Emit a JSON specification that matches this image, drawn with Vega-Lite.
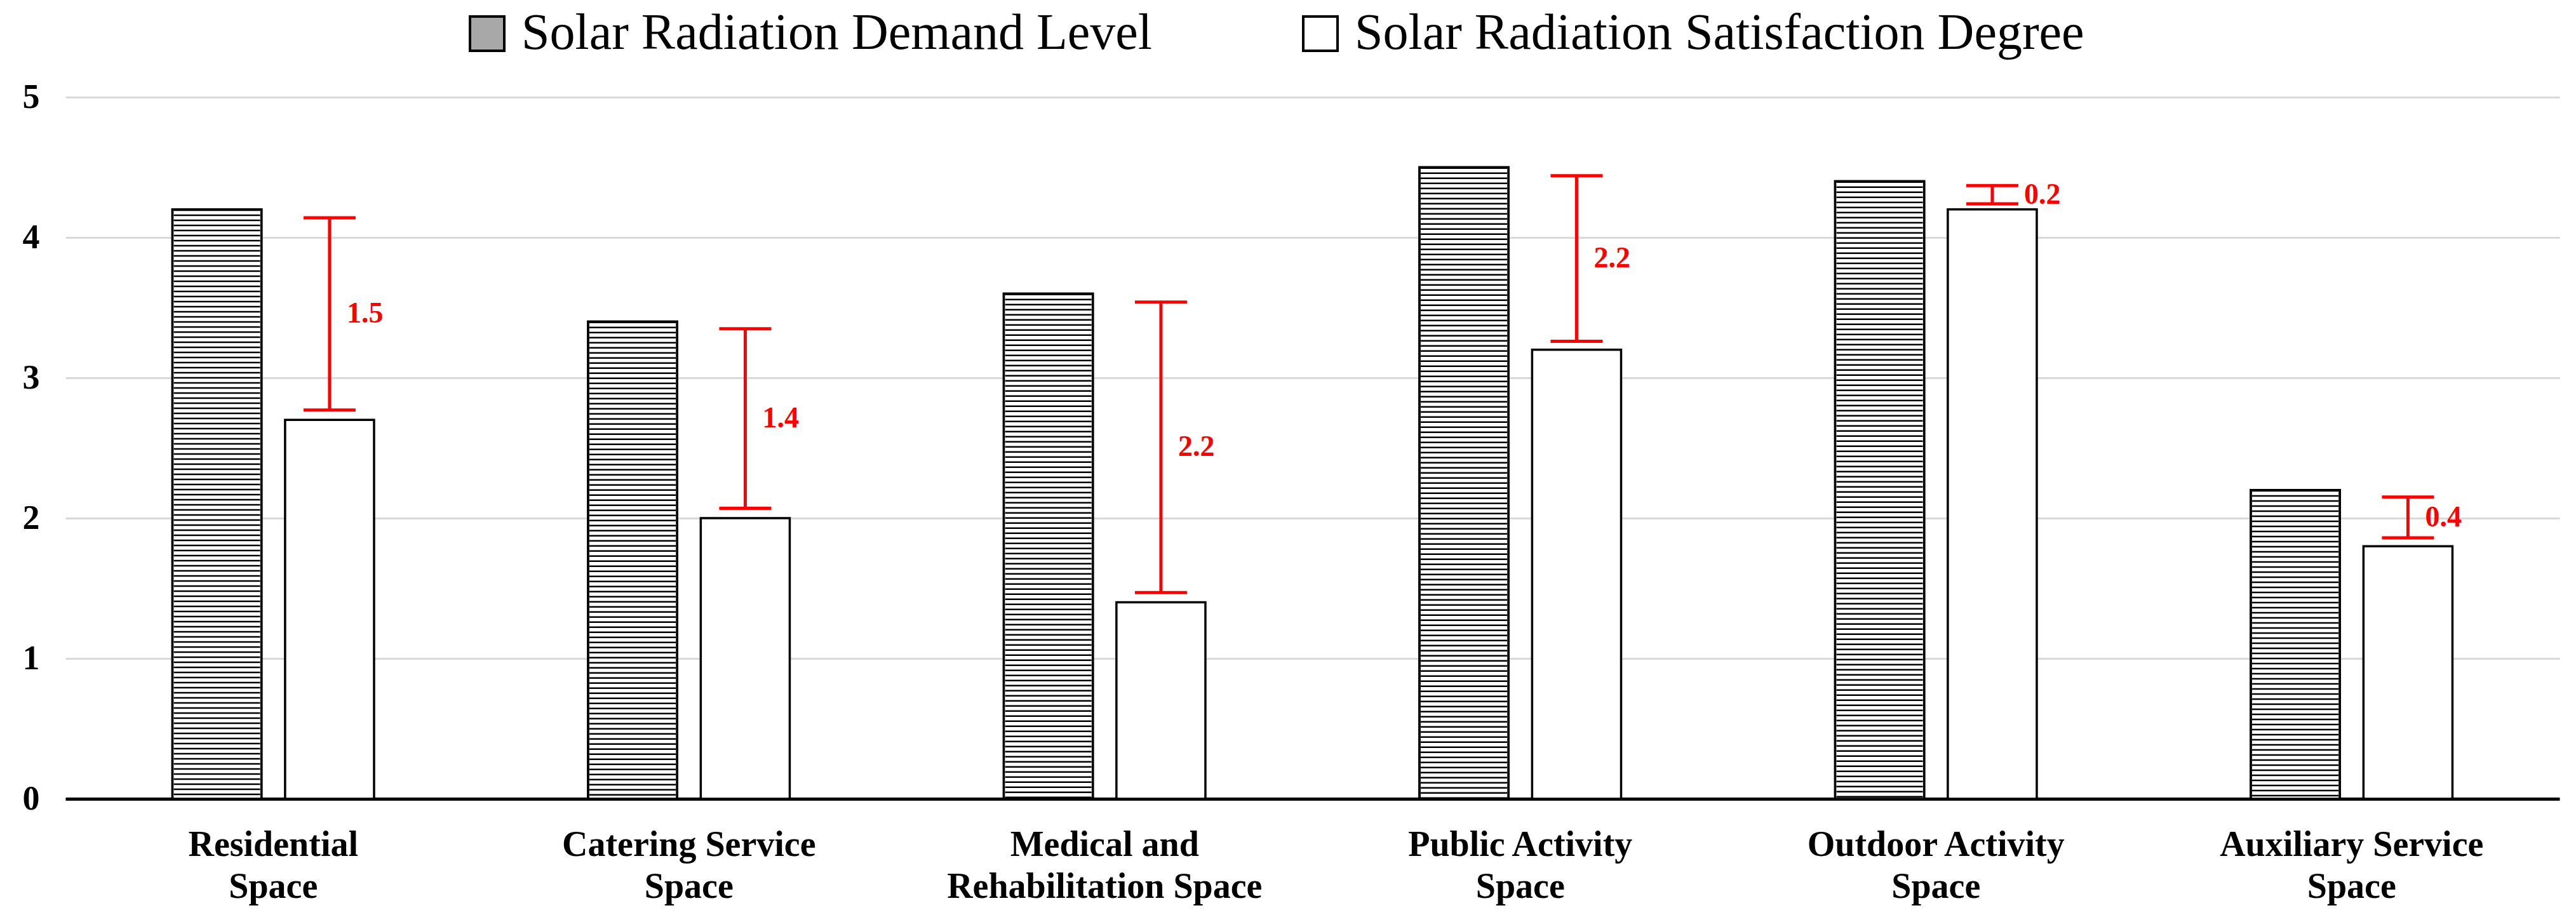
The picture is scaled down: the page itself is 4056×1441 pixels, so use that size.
{
  "$schema": "https://vega.github.io/schema/vega-lite/v6.json",
  "width": 3927,
  "height": 1105,
  "autosize": {"type": "none"},
  "padding": {"left": 103, "top": 153, "right": 26, "bottom": 183},
  "background": "white",
  "config": {
    "view": {"stroke": null},
    "font": "Liberation Serif"
  },
  "datasets": {
    "bars": [
      {"space": "Residential Space", "series": "Solar Radiation Demand Level", "value": 4.2},
      {"space": "Residential Space", "series": "Solar Radiation Satisfaction Degree", "value": 2.7},
      {"space": "Catering Service Space", "series": "Solar Radiation Demand Level", "value": 3.4},
      {"space": "Catering Service Space", "series": "Solar Radiation Satisfaction Degree", "value": 2.0},
      {"space": "Medical and Rehabilitation Space", "series": "Solar Radiation Demand Level", "value": 3.6},
      {"space": "Medical and Rehabilitation Space", "series": "Solar Radiation Satisfaction Degree", "value": 1.4},
      {"space": "Public Activity Space", "series": "Solar Radiation Demand Level", "value": 4.5},
      {"space": "Public Activity Space", "series": "Solar Radiation Satisfaction Degree", "value": 3.2},
      {"space": "Outdoor Activity Space", "series": "Solar Radiation Demand Level", "value": 4.4},
      {"space": "Outdoor Activity Space", "series": "Solar Radiation Satisfaction Degree", "value": 4.2},
      {"space": "Auxiliary Service Space", "series": "Solar Radiation Demand Level", "value": 2.2},
      {"space": "Auxiliary Service Space", "series": "Solar Radiation Satisfaction Degree", "value": 1.8}
    ],
    "gaps": [
      {"space": "Residential Space", "lo": 2.77, "hi": 4.14, "diff": "1.5"},
      {"space": "Catering Service Space", "lo": 2.07, "hi": 3.35, "diff": "1.4"},
      {"space": "Medical and Rehabilitation Space", "lo": 1.47, "hi": 3.54, "diff": "2.2"},
      {"space": "Public Activity Space", "lo": 3.26, "hi": 4.44, "diff": "2.2"},
      {"space": "Outdoor Activity Space", "lo": 4.24, "hi": 4.37, "diff": "0.2"},
      {"space": "Auxiliary Service Space", "lo": 1.86, "hi": 2.15, "diff": "0.4"}
    ]
  },
  "encoding": {
    "x": {
      "field": "space",
      "type": "nominal",
      "scale": {
        "domain": ["Residential Space", "Catering Service Space", "Medical and Rehabilitation Space", "Public Activity Space", "Outdoor Activity Space", "Auxiliary Service Space"],
        "paddingInner": 0.515,
        "paddingOuter": 0.2575
      },
      "axis": {
        "title": null,
        "labelAngle": 0,
        "ticks": false,
        "domainColor": "black",
        "domainWidth": 5,
        "labelFont": "Liberation Serif",
        "labelFontWeight": "bold",
        "labelFontSize": 56,
        "labelColor": "black",
        "labelLineHeight": 66,
        "labelPadding": 45,
        "labelBaseline": "top",
        "labelLimit": 2000,
        "labelExpr": "datum.value == 'Medical and Rehabilitation Space' ? ['Medical and', 'Rehabilitation Space'] : [slice(datum.value, 0, lastindexof(datum.value, ' ')), 'Space']"
      }
    }
  },
  "layer": [
    {
      "data": {"name": "bars"},
      "mark": {"type": "bar", "stroke": "black", "strokeWidth": 3.5},
      "encoding": {
        "xOffset": {
          "field": "series",
          "type": "nominal",
          "scale": {"domain": ["Solar Radiation Demand Level", "Solar Radiation Satisfaction Degree"], "paddingInner": 0.21, "paddingOuter": 0}
        },
        "y": {
          "field": "value",
          "type": "quantitative",
          "scale": {"domain": [0, 5], "nice": false},
          "axis": {
            "title": null,
            "values": [0, 1, 2, 3, 4, 5],
            "format": "d",
            "ticks": false,
            "domain": false,
            "gridColor": "#d9d9d9",
            "gridWidth": 3,
            "labelFont": "Liberation Serif",
            "labelFontWeight": "bold",
            "labelFontSize": 54,
            "labelColor": "black",
            "labelPadding": 41
          }
        },
        "fill": {
          "field": "series",
          "type": "nominal",
          "scale": {"domain": ["Solar Radiation Demand Level", "Solar Radiation Satisfaction Degree"], "range": ["#a8a8a8", "#ffffff"]},
          "legend": {
            "title": null,
            "orient": "none",
            "legendX": 624,
            "legendY": -140,
            "direction": "horizontal",
            "padding": 0,
            "symbolType": "square",
            "symbolSize": 2916,
            "symbolStrokeColor": "black",
            "symbolStrokeWidth": 4,
            "symbolOpacity": 1,
            "labelFont": "Liberation Serif",
            "labelFontSize": 80,
            "labelColor": "black",
            "labelOffset": 14,
            "labelLimit": 0,
            "columnPadding": 224
          }
        }
      }
    },
    {
      "data": {"name": "bars"},
      "transform": [{"filter": "datum.series === 'Solar Radiation Demand Level'"}],
      "mark": {"type": "rule", "color": "#ffffff", "strokeWidth": 137, "strokeCap": "butt"},
      "encoding": {
        "xOffset": {"field": "series", "type": "nominal"},
        "y": {"field": "value", "type": "quantitative"},
        "y2": {"datum": 0}
      }
    },
    {
      "data": {"name": "bars"},
      "transform": [{"filter": "datum.series === 'Solar Radiation Demand Level'"}],
      "mark": {"type": "rule", "color": "black", "strokeWidth": 136, "strokeDash": [2.5, 5.5], "strokeCap": "butt"},
      "encoding": {
        "xOffset": {"field": "series", "type": "nominal"},
        "y": {"field": "value", "type": "quantitative"},
        "y2": {"datum": 0}
      }
    },
    {
      "data": {"name": "bars"},
      "transform": [{"filter": "datum.series === 'Solar Radiation Demand Level'"}],
      "mark": {"type": "bar", "fill": "transparent", "stroke": "black", "strokeWidth": 3.5},
      "encoding": {
        "xOffset": {"field": "series", "type": "nominal"},
        "y": {"field": "value", "type": "quantitative"}
      }
    },
    {
      "data": {"name": "gaps"},
      "mark": {"type": "rule", "color": "#ff0000", "strokeWidth": 5},
      "encoding": {
        "xOffset": {"datum": "Solar Radiation Satisfaction Degree"},
        "y": {"field": "lo", "type": "quantitative"},
        "y2": {"field": "hi"}
      }
    },
    {
      "data": {"name": "gaps"},
      "mark": {"type": "tick", "color": "#ff0000", "thickness": 5, "size": 82, "opacity": 1},
      "encoding": {
        "xOffset": {"datum": "Solar Radiation Satisfaction Degree"},
        "y": {"field": "lo", "type": "quantitative"}
      }
    },
    {
      "data": {"name": "gaps"},
      "mark": {"type": "tick", "color": "#ff0000", "thickness": 5, "size": 82, "opacity": 1},
      "encoding": {
        "xOffset": {"datum": "Solar Radiation Satisfaction Degree"},
        "y": {"field": "hi", "type": "quantitative"}
      }
    },
    {
      "data": {"name": "gaps"},
      "transform": [
        {"filter": "datum.diff !== '0.2'"},
        {"fold": ["lo", "hi"], "as": ["end", "v"]},
        {"aggregate": [{"op": "mean", "field": "v", "as": "mid"}], "groupby": ["space", "diff"]}
      ],
      "mark": {"type": "text", "color": "#ff0000", "font": "Liberation Serif", "fontWeight": "bold", "fontSize": 46, "align": "left", "baseline": "middle", "dx": 27},
      "encoding": {
        "xOffset": {"datum": "Solar Radiation Satisfaction Degree"},
        "y": {"field": "mid", "type": "quantitative"},
        "text": {"field": "diff"}
      }
    },
    {
      "data": {"name": "gaps"},
      "transform": [
        {"filter": "datum.diff === '0.2'"},
        {"fold": ["lo", "hi"], "as": ["end", "v"]},
        {"aggregate": [{"op": "mean", "field": "v", "as": "mid"}], "groupby": ["space", "diff"]}
      ],
      "mark": {"type": "text", "color": "#ff0000", "font": "Liberation Serif", "fontWeight": "bold", "fontSize": 46, "align": "left", "baseline": "middle", "dx": 50},
      "encoding": {
        "xOffset": {"datum": "Solar Radiation Satisfaction Degree"},
        "y": {"field": "mid", "type": "quantitative"},
        "text": {"field": "diff"}
      }
    }
  ]
}
